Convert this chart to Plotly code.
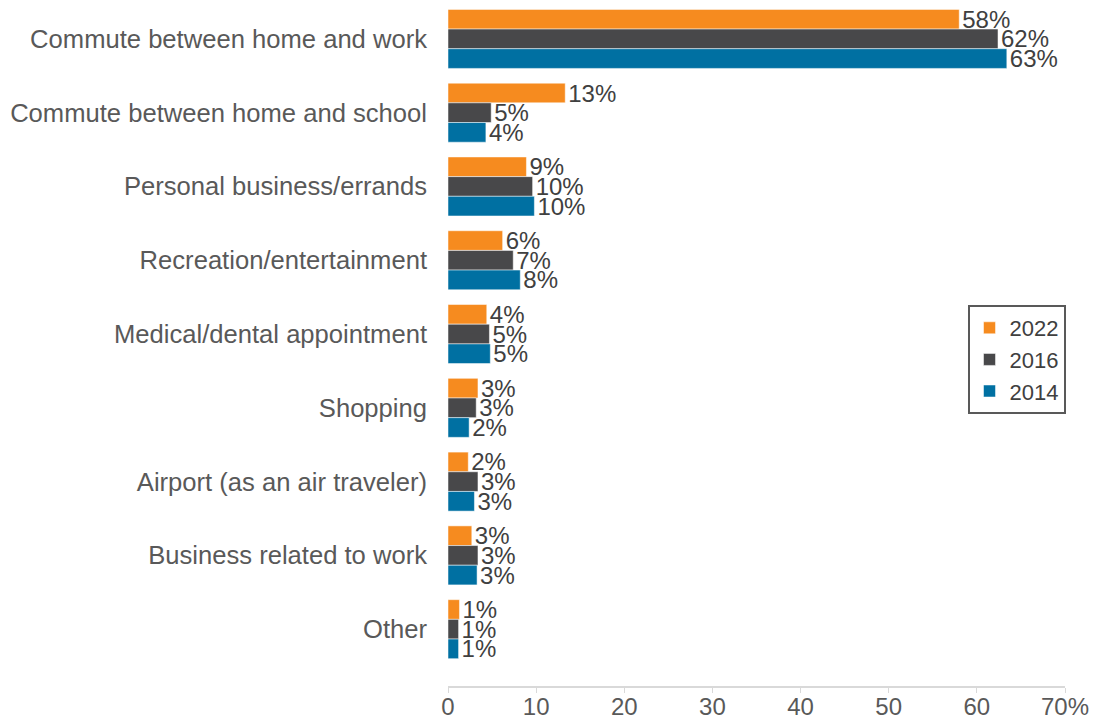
import plotly.graph_objects as go

categories = [
    "Commute between home and work",
    "Commute between home and school",
    "Personal business/errands",
    "Recreation/entertainment",
    "Medical/dental appointment",
    "Shopping",
    "Airport (as an air traveler)",
    "Business related to work",
    "Other",
]
years = ["2022", "2016", "2014"]
v2022 = [58.0, 13.3, 8.9, 6.2, 4.4, 3.4, 2.3, 2.7, 1.3]
v2016 = [62.4, 4.9, 9.6, 7.4, 4.7, 3.2, 3.4, 3.4, 1.2]
v2014 = [63.4, 4.3, 9.8, 8.2, 4.8, 2.4, 3.0, 3.3, 1.2]
tick_vals = [0, 10, 20, 30, 40, 50, 60, 70]
tick_text = ["0", "10", "20", "30", "40", "50", "60", "70%"]

colors = ["#F68B1F", "#48484A", "#0070A2"]
series = [v2022, v2016, v2014]
FONT = "Liberation Sans, Arial, sans-serif"

fig = go.Figure()
for name, vals, col in zip(years, series, colors):
    fig.add_trace(go.Bar(
        y=categories, x=vals, name=name, orientation="h",
        marker=dict(color=col, line=dict(color="white", width=0.5)),
        text=vals, texttemplate="%{x:.0f}%", textposition="outside",
        constraintext="none",
        textfont=dict(size=24, color="#404040", family=FONT),
        cliponaxis=False,
    ))

fig.update_layout(
    width=1102, height=719,
    margin=dict(l=448, r=37, t=2, b=33, autoexpand=False),
    barmode="group", bargap=0.2, bargroupgap=0,
    plot_bgcolor="white", paper_bgcolor="white",
    font=dict(family=FONT, size=24, color="#595959"),
    showlegend=True,
    legend=dict(
        x=0.842, y=0.557, xanchor="left", yanchor="top",
        bordercolor="#595959", borderwidth=2, bgcolor="white",
        font=dict(size=22, color="#404040"),
        itemwidth=30, traceorder="normal",
        tracegroupgap=0,
    ),
)
fig.update_xaxes(
    range=[0, 70], tickvals=tick_vals, ticktext=tick_text,
    showgrid=False, zeroline=False,
    showline=True, linecolor="#D9D9D9", linewidth=1.5,
    ticks="outside", tickcolor="#D9D9D9", ticklen=5,
    ticklabelstandoff=-7,
    tickfont=dict(size=24, color="#595959"),
)
fig.update_yaxes(
    categoryorder="array", categoryarray=categories,
    range=[8.77, -0.5],
    showgrid=False, zeroline=False, showline=False,
    ticks="", ticklabelstandoff=20,
    tickfont=dict(size=25.6, color="#595959"),
)

fig.write_html(
    "out.html",
    config={"displayModeBar": False},
    post_script="document.body.style.margin='0';document.body.style.overflow='hidden';",
)
